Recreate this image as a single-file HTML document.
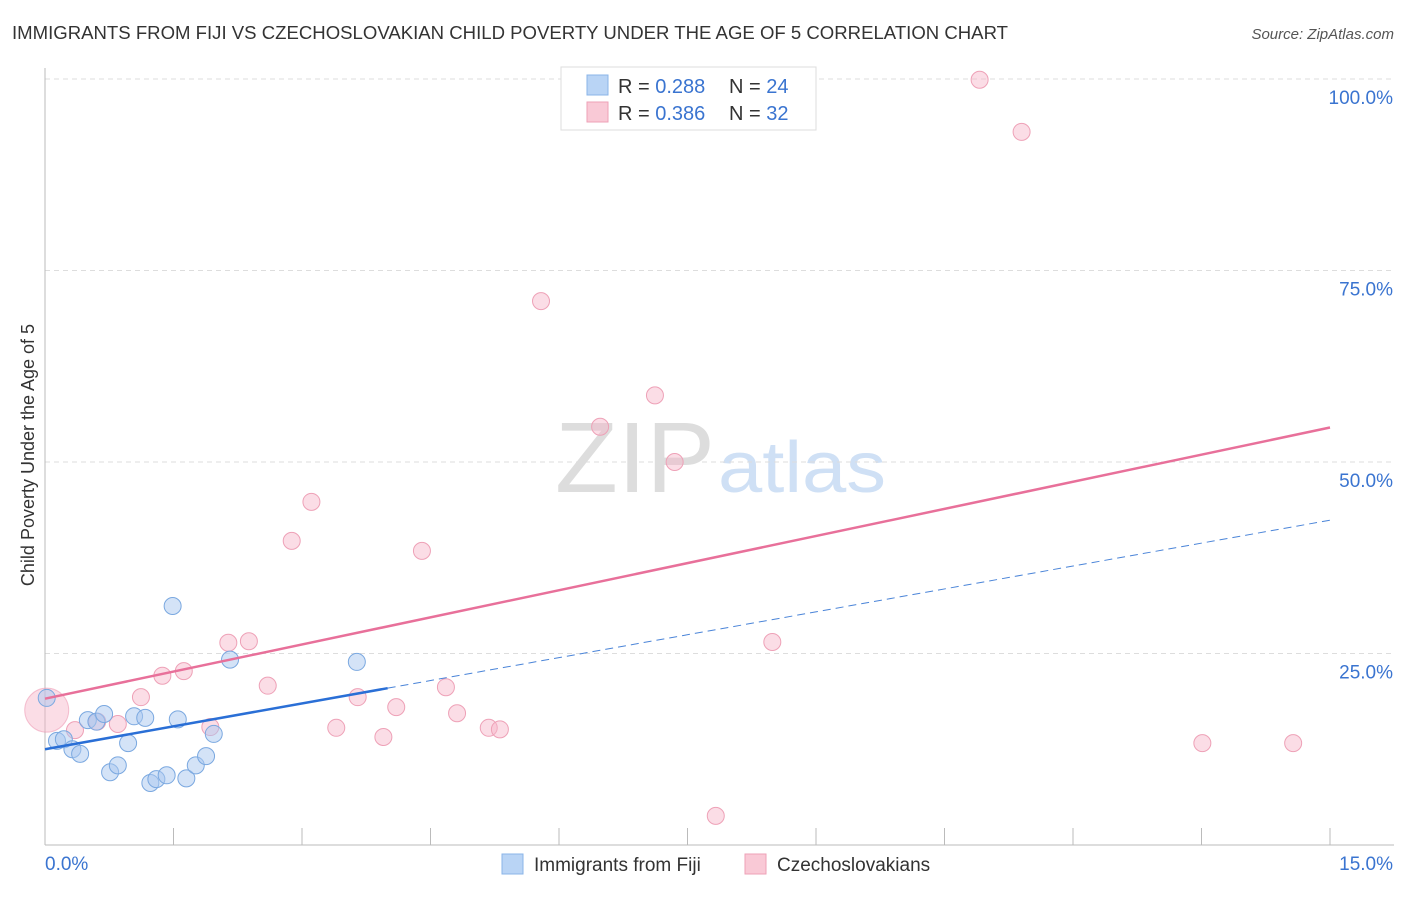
<!DOCTYPE html>
<html><head><meta charset="utf-8"><style>
body{margin:0;background:#fff;font-family:"Liberation Sans",sans-serif;}
svg text{font-family:"Liberation Sans",sans-serif;}
</style></head><body>
<svg id="chart" width="1406" height="892" xmlns="http://www.w3.org/2000/svg">
<text x="12" y="39" font-size="18" fill="#333" textLength="996" lengthAdjust="spacingAndGlyphs">IMMIGRANTS FROM FIJI VS CZECHOSLOVAKIAN CHILD POVERTY UNDER THE AGE OF 5 CORRELATION CHART</text>
<text x="1394" y="39" font-size="15" fill="#555" font-style="italic" text-anchor="end">Source: ZipAtlas.com</text>
<text x="555" y="492" font-size="100" fill="#ddd" textLength="160" lengthAdjust="spacingAndGlyphs" font-family="Liberation Serif">ZIP</text>
<text x="718" y="492" font-size="72" fill="#cfe0f5" textLength="168" lengthAdjust="spacingAndGlyphs">atlas</text>
<text transform="translate(34,455) rotate(-90)" font-size="18" fill="#333" text-anchor="middle">Child Poverty Under the Age of 5</text>
<g id="grid"></g><g id="axes"></g><g id="marks"></g>
<g>
<rect x="561" y="67" width="255" height="63" fill="#fff" stroke="#ddd"/>
<rect x="587" y="75" width="21" height="20" fill="#b9d4f5" stroke="#8ab4e8"/>
<rect x="587" y="102" width="21" height="20" fill="#f9c9d6" stroke="#eea1b7"/>
<text x="618" y="93" font-size="20" fill="#333">R = <tspan fill="#3a74d0">0.288</tspan></text>
<text x="729" y="93" font-size="20" fill="#333">N = <tspan fill="#3a74d0">24</tspan></text>
<text x="618" y="120" font-size="20" fill="#333">R = <tspan fill="#3a74d0">0.386</tspan></text>
<text x="729" y="120" font-size="20" fill="#333">N = <tspan fill="#3a74d0">32</tspan></text>
</g>
<g>
<rect x="502" y="854" width="21" height="20" fill="#b9d4f5" stroke="#8ab4e8"/>
<text x="534" y="871" font-size="19" fill="#333">Immigrants from Fiji</text>
<rect x="745" y="854" width="21" height="20" fill="#f9c9d6" stroke="#eea1b7"/>
<text x="777" y="871" font-size="19" fill="#333">Czechoslovakians</text>
</g>
</svg>
<script>
const fijiX=[0.02,0.14,0.22,0.32,0.41,0.50,0.60,0.69,0.76,0.85,0.97,1.04,1.17,1.23,1.30,1.42,1.49,1.55,1.65,1.76,1.88,1.97,2.16,3.64];
const fijiY=[19.2,13.6,13.8,12.5,11.9,16.3,16.1,17.1,9.5,10.4,13.3,16.8,16.6,8.1,8.6,9.1,31.2,16.4,8.7,10.4,11.6,14.5,24.2,23.9];
const czX=[0.02,0.35,0.61,0.85,1.12,1.37,1.62,1.93,2.14,2.38,2.60,2.88,3.11,3.40,3.65,3.95,4.10,4.40,4.68,4.81,5.18,5.31,5.79,6.48,7.12,7.35,7.83,8.49,10.91,11.40,13.51,14.57];
const czY=[17.6,15.0,16.1,15.8,19.3,22.1,22.7,15.4,26.4,26.6,20.8,39.7,44.8,15.3,19.3,14.1,18.0,38.4,20.6,17.2,15.3,15.1,71.0,54.6,58.7,50.0,3.8,26.5,99.9,93.1,13.3,13.3];
const yTicks=[25,50,75,100];
const yTickLabels=["25.0%","50.0%","75.0%","100.0%"];
const xTicks=[0,1.5,3,4.5,6,7.5,9,10.5,12,13.5,15];
const fijiTrend=[12.5,42.4];
const czTrend=[19.1,54.5];
const NS='http://www.w3.org/2000/svg';
const X=v=>45+v/15*1285, Y=v=>845-v*7.66;
function mk(t,a,p){const e=document.createElementNS(NS,t);for(const k in a)e.setAttribute(k,a[k]);p.appendChild(e);return e;}
const grid=document.getElementById('grid'),axes=document.getElementById('axes'),marks=document.getElementById('marks');
yTicks.forEach((v,i)=>{
 const l=mk('line',{x1:45,x2:1394,y1:Y(v),y2:Y(v),stroke:'#ddd','stroke-dasharray':'5,4'},grid);
 
 
 const t=mk('text',{x:1393,y:Y(v)+25,'font-size':19,fill:'#3a74d0','text-anchor':'end'},axes);
 t.textContent=yTickLabels[i];
 
 
});
const ya=mk('line',{x1:45,x2:45,y1:68,y2:845,stroke:'#bbb'},axes);


const xa=mk('line',{x1:45,x2:1394,y1:845,y2:845,stroke:'#bbb'},axes);


xTicks.forEach(v=>{
 const l=mk('line',{x1:X(v),x2:X(v),y1:828,y2:845,stroke:'#bbb'},axes);
 
 
});
const x0=mk('text',{x:45,y:870,'font-size':19,fill:'#3a74d0'},axes);x0.textContent='0.0%';


const x1=mk('text',{x:1393,y:870,'font-size':19,fill:'#3a74d0','text-anchor':'end'},axes);x1.textContent='15.0%';


const big=mk('circle',{cx:X(czX[0]),cy:Y(czY[0]),r:22,fill:'rgba(246,180,200,0.45)',stroke:'rgba(235,140,170,0.5)'},marks);


czX.forEach((v,i)=>{if(i===0)return;
 const c=mk('circle',{cx:X(v),cy:Y(czY[i]),r:8.5,fill:'rgba(246,180,200,0.45)',stroke:'#eea1b7'},marks);
 
 
});
fijiX.forEach((v,i)=>{
 const c=mk('circle',{cx:X(v),cy:Y(fijiY[i]),r:8.5,fill:'rgba(170,200,240,0.5)',stroke:'#7aa8e0'},marks);
 
 
});
const fy=x=>fijiTrend[0]+(fijiTrend[1]-fijiTrend[0])*x/15;
const fd=mk('line',{x1:X(4),y1:Y(fy(4)),x2:X(15),y2:Y(fy(15)),stroke:'#4a84d8','stroke-width':1,'stroke-dasharray':'8,5'},marks);


const fs=mk('line',{x1:X(0),y1:Y(fy(0)),x2:X(4),y2:Y(fy(4)),stroke:'#2a6fd6','stroke-width':2.5},marks);


const cl=mk('line',{x1:X(0),y1:Y(czTrend[0]),x2:X(15),y2:Y(czTrend[1]),stroke:'#e8709a','stroke-width':2.5},marks);


</script>
</body></html>
